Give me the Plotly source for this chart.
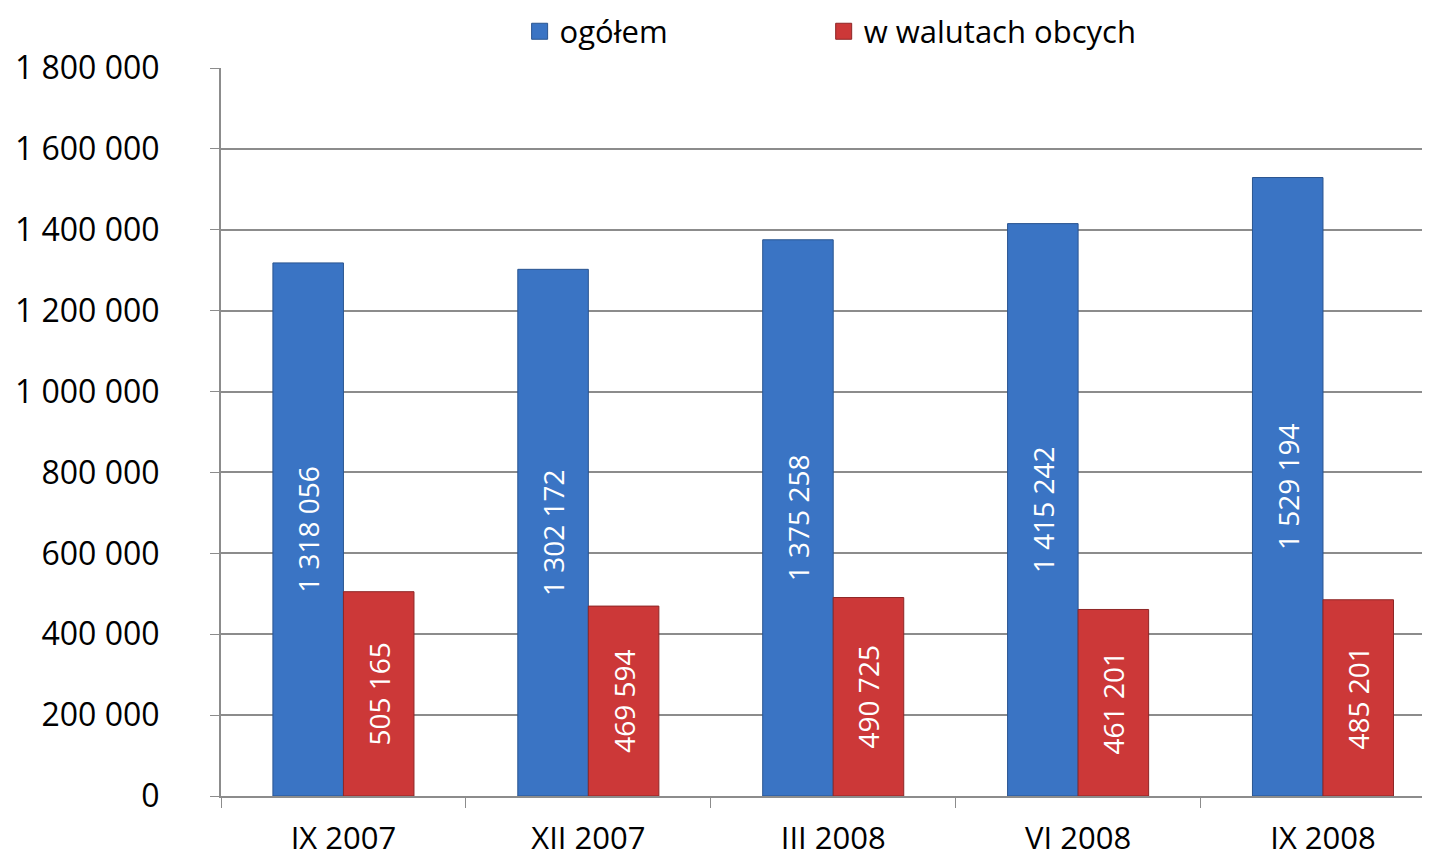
import plotly.graph_objects as go

# data
categories = ["IX 2007", "XII 2007", "III 2008", "VI 2008", "IX 2008"]
ogolem = [1318056, 1302172, 1375258, 1415242, 1529194]
w_walutach = [505165, 469594, 490725, 461201, 485201]
y_ticks = [0, 200000, 400000, 600000, 800000, 1000000, 1200000, 1400000, 1600000, 1800000]

series_names = ["ogółem", "w walutach obcych"]
BLUE, RED = "#3a74c4", "#cc3838"
BLUE_EDGE, RED_EDGE = "#2a5590", "#8e2626"


def fmt(v):
    # polish style: space as thousands separator
    return f"{v:,}".replace(",", " ")


FONT = "Open Sans"

fig = go.Figure()
fig.add_trace(go.Bar(
    x=categories, y=ogolem, name=series_names[0], showlegend=False,
    text=[fmt(v) for v in ogolem],
    marker=dict(color=BLUE, line=dict(color=BLUE_EDGE, width=1)),
))
fig.add_trace(go.Bar(
    x=categories, y=w_walutach, name=series_names[1], showlegend=False,
    text=[fmt(v) for v in w_walutach],
    marker=dict(color=RED, line=dict(color=RED_EDGE, width=1)),
))
fig.update_traces(
    textposition="inside", insidetextanchor="middle", textangle=-90,
    textfont=dict(family=FONT, size=28, color="white"),
    cliponaxis=False,
)

# legend entries with bigger square symbols, one legend each so spacing matches
fig.add_trace(go.Scatter(
    x=[None], y=[None], mode="markers", name=series_names[0], legend="legend",
    marker=dict(symbol="square", size=21, color=BLUE, line=dict(color=BLUE_EDGE, width=1)),
))
fig.add_trace(go.Scatter(
    x=[None], y=[None], mode="markers", name=series_names[1], legend="legend2",
    marker=dict(symbol="square", size=21, color=RED, line=dict(color=RED_EDGE, width=1)),
))

leg = dict(orientation="h", xanchor="left", y=1.05, yanchor="middle",
           font=dict(family=FONT, size=31), itemwidth=30, bgcolor="rgba(0,0,0,0)")

# page body has an 8px margin, so the figure is shrunk/shifted to land on the reference
fig.update_layout(
    width=1422, height=852,
    margin=dict(l=213, r=0, t=60, b=64, autoexpand=False),
    paper_bgcolor="white", plot_bgcolor="white",
    font=dict(family=FONT, size=32, color="black"),
    barmode="group", bargap=0.424, bargroupgap=0,
    showlegend=True,
    legend=dict(leg, x=0.247),
    legend2=dict(leg, x=0.4985),
    xaxis=dict(
        range=[-0.5, 4.437], tickson="boundaries", ticks="outside", ticklen=10,
        tickcolor="#8c8c8c", showline=True, linecolor="#8c8c8c", linewidth=2,
        ticklabelstandoff=14, showgrid=False, automargin=False,
        tickfont=dict(size=31),
    ),
    yaxis=dict(
        range=[0, 1800000], tickvals=y_ticks, ticktext=[fmt(v) for v in y_ticks],
        ticks="outside", ticklen=9, tickcolor="#8c8c8c", showline=True,
        linecolor="#8c8c8c", linewidth=2, gridcolor="#8c8c8c", gridwidth=2,
        ticklabelstandoff=44, zeroline=False, automargin=False,
    ),
)

fig.write_html("out.html")
